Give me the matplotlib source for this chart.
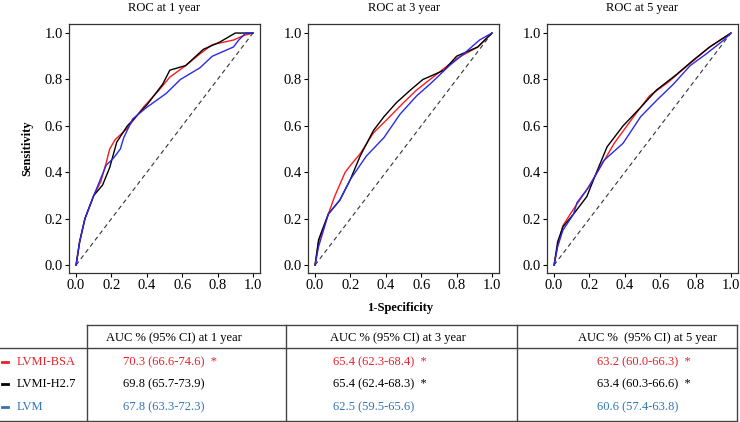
"""ROC curves of LV mass indices at 1, 3 and 5 years, with AUC table below."""

import matplotlib

matplotlib.use("Agg")
import matplotlib.pyplot as plt
from matplotlib.lines import Line2D

plt.rcParams["font.family"] = ["Liberation Serif", "DejaVu Serif"]

# ---- data ----
titles = ["ROC at 1 year", "ROC at 3 year", "ROC at 5 year"]
series_names = ["LVMI-BSA", "LVMI-H2.7", "LVM"]
line_colors = ["#ff1a1a", "#000000", "#2a2ae8"]
text_colors = ["#e8202a", "#000000", "#2e75b6"]

# 1 year
fpr_bsa_1 = [0, 0.02, 0.05, 0.10, 0.14, 0.17, 0.19, 0.22, 0.29, 0.38, 0.47, 0.53, 0.62, 0.70, 0.77, 0.89, 0.95, 1.0]
tpr_bsa_1 = [0, 0.10, 0.20, 0.30, 0.36, 0.44, 0.50, 0.54, 0.59, 0.68, 0.755, 0.81, 0.86, 0.91, 0.95, 0.97, 0.99, 1.0]
fpr_h27_1 = [0, 0.02, 0.05, 0.10, 0.15, 0.19, 0.23, 0.29, 0.40, 0.49, 0.53, 0.62, 0.72, 0.81, 0.90, 1.0]
tpr_h27_1 = [0, 0.10, 0.20, 0.30, 0.345, 0.42, 0.53, 0.60, 0.69, 0.78, 0.84, 0.86, 0.93, 0.96, 1.0, 1.0]
fpr_lvm_1 = [0, 0.02, 0.05, 0.10, 0.17, 0.21, 0.25, 0.27, 0.32, 0.40, 0.51, 0.59, 0.70, 0.77, 0.89, 0.92, 0.96, 1.0]
tpr_lvm_1 = [0, 0.10, 0.20, 0.30, 0.43, 0.46, 0.50, 0.55, 0.63, 0.68, 0.74, 0.80, 0.85, 0.90, 0.94, 0.97, 1.0, 1.0]

# 3 year
fpr_bsa_3 = [0, 0.02, 0.075, 0.11, 0.17, 0.20, 0.255, 0.33, 0.41, 0.50, 0.575, 0.65, 0.80, 0.92, 1.0]
tpr_bsa_3 = [0, 0.10, 0.22, 0.295, 0.40, 0.43, 0.48, 0.57, 0.63, 0.70, 0.755, 0.80, 0.89, 0.94, 1.0]
fpr_h27_3 = [0, 0.02, 0.075, 0.14, 0.20, 0.255, 0.33, 0.39, 0.46, 0.54, 0.61, 0.73, 0.80, 0.92, 1.0]
tpr_h27_3 = [0, 0.11, 0.22, 0.28, 0.37, 0.47, 0.58, 0.64, 0.70, 0.755, 0.80, 0.84, 0.90, 0.94, 1.0]
fpr_lvm_3 = [0, 0.02, 0.075, 0.14, 0.20, 0.29, 0.39, 0.48, 0.575, 0.65, 0.76, 0.84, 0.93, 1.0]
tpr_lvm_3 = [0, 0.08, 0.22, 0.28, 0.37, 0.47, 0.55, 0.65, 0.73, 0.78, 0.86, 0.91, 0.97, 1.0]

# 5 year
fpr_bsa_5 = [0, 0.02, 0.05, 0.10, 0.185, 0.26, 0.34, 0.45, 0.54, 0.64, 0.77, 0.88, 1.0]
tpr_bsa_5 = [0, 0.08, 0.17, 0.23, 0.325, 0.42, 0.525, 0.64, 0.73, 0.785, 0.87, 0.94, 1.0]
fpr_h27_5 = [0, 0.02, 0.05, 0.11, 0.185, 0.24, 0.30, 0.39, 0.49, 0.58, 0.69, 0.79, 0.88, 1.0]
tpr_h27_5 = [0, 0.10, 0.165, 0.22, 0.295, 0.40, 0.51, 0.60, 0.68, 0.755, 0.82, 0.885, 0.94, 1.0]
fpr_lvm_5 = [0, 0.02, 0.05, 0.11, 0.13, 0.20, 0.28, 0.39, 0.49, 0.58, 0.675, 0.77, 0.86, 0.96, 1.0]
tpr_lvm_5 = [0, 0.08, 0.15, 0.22, 0.27, 0.34, 0.45, 0.525, 0.64, 0.71, 0.78, 0.86, 0.91, 0.97, 1.0]

curves = [
    [(fpr_bsa_1, tpr_bsa_1), (fpr_h27_1, tpr_h27_1), (fpr_lvm_1, tpr_lvm_1)],
    [(fpr_bsa_3, tpr_bsa_3), (fpr_h27_3, tpr_h27_3), (fpr_lvm_3, tpr_lvm_3)],
    [(fpr_bsa_5, tpr_bsa_5), (fpr_h27_5, tpr_h27_5), (fpr_lvm_5, tpr_lvm_5)],
]

table_headers = [
    "AUC % (95% CI) at 1 year",
    "AUC % (95% CI) at 3 year",
    "AUC %  (95% CI) at 5 year",
]
auc_1yr = ["70.3 (66.6-74.6)  *", "69.8 (65.7-73.9)", "67.8 (63.3-72.3)"]
auc_3yr = ["65.4 (62.3-68.4)  *", "65.4 (62.4-68.3)  *", "62.5 (59.5-65.6)"]
auc_5yr = ["63.2 (60.0-66.3)  *", "63.4 (60.3-66.6)  *", "60.6 (57.4-63.8)"]
auc_cols = [auc_1yr, auc_3yr, auc_5yr]

ticks = [0.0, 0.2, 0.4, 0.6, 0.8, 1.0]

W, H = 740, 422
fig = plt.figure(figsize=(W / 100, H / 100), dpi=100)

panel_left = [69, 308, 547]
for i, left in enumerate(panel_left):
    ax = fig.add_axes([left / W, (H - 273) / H, 191 / W, 249 / H])
    ax.plot([0, 1], [0, 1], ls=(0, (4, 3)), color="#333333", lw=0.8)
    for (fx, ty), col in zip(curves[i], line_colors):
        ax.plot(fx, ty, color=col, lw=1.0)
    ax.set_xlim(-0.04, 1.04)
    ax.set_ylim(-0.034, 1.039)
    ax.set_xticks(ticks)
    ax.set_yticks(ticks)
    ax.set_xticklabels([f"{t:.1f}" for t in ticks])
    ax.set_yticklabels([f"{t:.1f}" for t in ticks])
    ax.tick_params(direction="out", length=3, width=0.8, labelsize=10.5, pad=1.5)
    for s in ax.spines.values():
        s.set_linewidth(0.9)
        s.set_color("#333333")
    ax.set_title(titles[i], fontsize=9, pad=9)
    if i == 0:
        ax.set_ylabel("Sensitivity", fontsize=9, fontweight="bold", labelpad=8)

fig.text(400 / W, 1 - 308 / H, "1-Specificity", ha="center", va="center",
         fontsize=9, fontweight="bold")

# ---- AUC table drawn in pixel coordinates ----
tab = fig.add_axes([0, 0, 1, 1])
tab.set_xlim(0, W)
tab.set_ylim(H, 0)
tab.set_axis_off()
lc = "#444444"
tab.add_line(Line2D([87, 737], [325, 325], color=lc, lw=1.0))
tab.add_line(Line2D([0, 737], [348, 348], color=lc, lw=1.0))
tab.add_line(Line2D([0, 737], [420.5, 420.5], color=lc, lw=1.0))
for xv in [87, 286, 517, 737]:
    tab.add_line(Line2D([xv, xv], [325, 421], color=lc, lw=1.0))

header_x = [106, 330, 578]
value_x = [123, 333, 597]
row_y = [362, 384, 407]

for hx, h in zip(header_x, table_headers):
    tab.text(hx, 338, h, ha="left", va="center", fontsize=9)

for j, name in enumerate(series_names):
    tab.add_line(Line2D([2, 8], [row_y[j], row_y[j]], color=text_colors[j], lw=2))
    tab.text(17, row_y[j], name, ha="left", va="center", fontsize=9,
             color=text_colors[j])
    for vx, col in zip(value_x, auc_cols):
        tab.text(vx, row_y[j], col[j], ha="left", va="center", fontsize=9,
                 color=text_colors[j])

fig.savefig("out.png", dpi=100)
